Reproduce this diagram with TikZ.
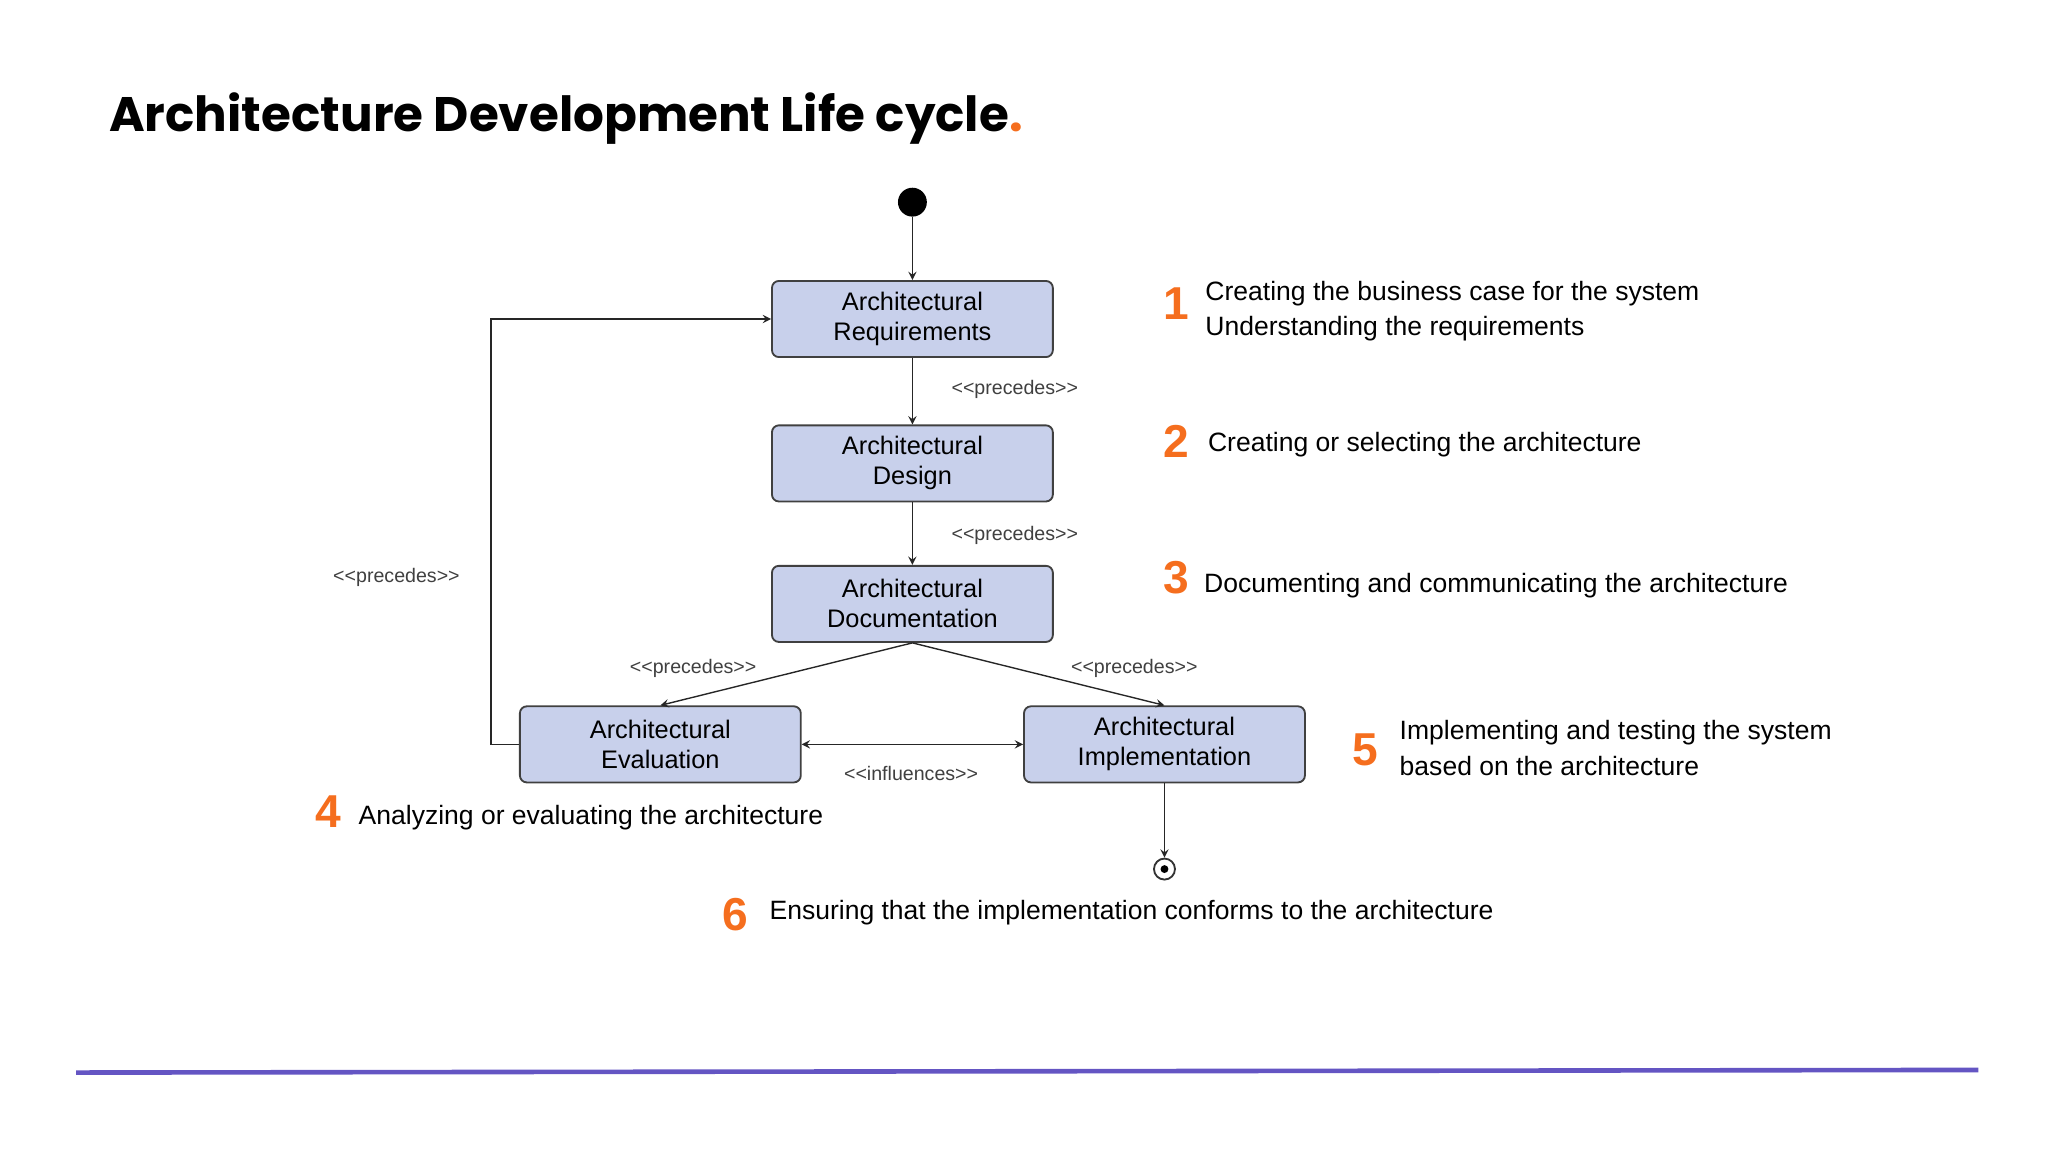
\documentclass[tikz,border=0pt]{standalone}
\usepackage{fontspec}
\setmainfont{Liberation Sans}
\newfontfamily\titlefont{Poppins}
\usetikzlibrary{positioning}
\definecolor{boxfill}{RGB}{200,208,235}
\definecolor{steporange}{RGB}{245,110,30}
\definecolor{rulepurple}{RGB}{100,85,195}
\newcommand{\stereotype}[1]{{<}{<}#1{>}{>}}

\begin{document}
\begin{tikzpicture}[x=0.02cm,y=-0.02cm,
    state/.style={rectangle,rounded corners=3pt,draw=black!75,fill=boxfill,thick,
        minimum width=4.28cm,minimum height=1.16cm,align=center,font=\fontsize{11}{13}\selectfont},
    flow/.style={->,>=stealth,semithick,black!85},
    stereo/.style={font=\fontsize{8.5}{10}\selectfont,text=black!75},
    num/.style={font=\fontsize{20}{22}\selectfont\bfseries,text=steporange},
    note/.style={font=\fontsize{11.5}{15.5}\selectfont,align=left,anchor=west},
]
    \useasboundingbox (0,0) rectangle (1560,878);
    % title
    \node[anchor=west,font=\titlefont\fontsize{21}{26}\selectfont\bfseries] (title) at (77,90)
        {Architecture Development Life cycle\textcolor{steporange}{.}};
    % states
    \node[circle,fill=black,inner sep=0pt,minimum size=0.44cm] (start) at (695,154) {};
    \node[state] (req) at (695,243) {Architectural\\Requirements};
    \node[state] (des) at (695,353) {Architectural\\Design};
    \node[state] (doc) at (695,460) {Architectural\\Documentation};
    \node[state] (eval) at (503,567) {Architectural\\Evaluation};
    \node[state] (impl) at (887,567) {Architectural\\Implementation};
    \node[circle,draw=black!80,thick,inner sep=0pt,minimum size=0.32cm] (stop) at (887,662) {};
    \fill[black] (stop) circle (0.06cm);
    \coordinate (loop) at (374,567);
    % connectors
    \draw[flow] (start) -- (req);
    \draw[flow] (req) -- (des);
    \draw[flow] (des) -- (doc);
    \draw[flow] (doc.south) -- (eval.north);
    \draw[flow] (doc.south) -- (impl.north);
    \draw[flow,<->] (eval) -- (impl);
    \draw[flow] (impl) -- (stop);
    \draw[flow] (eval.west) -- (loop) |- (req.west);
    % stereotypes
    \node[stereo] (s1) at (773,297) {\stereotype{precedes}};
    \node[stereo] (s2) at (773,408) {\stereotype{precedes}};
    \node[stereo] (s3) at (528,509) {\stereotype{precedes}};
    \node[stereo] (s4) at (864,509) {\stereotype{precedes}};
    \node[stereo] (s5) at (302,440) {\stereotype{precedes}};
    \node[stereo] (s6) at (694,589) {\stereotype{influences}};
    % steps
    \node[num] (n1) at (896,231) {1};
    \node[note] (t1) at (912,237) {Creating the business case for the system\\Understanding the requirements};
    \node[num] (n2) at (896,336) {2};
    \node[note] (t2) at (914,339) {Creating or selecting the architecture};
    \node[num] (n3) at (896,440) {3};
    \node[note] (t3) at (911,446) {Documenting and communicating the architecture};
    \node[num] (n4) at (250,618) {4};
    \node[note] (t4) at (267,623) {Analyzing or evaluating the architecture};
    \node[num] (n5) at (1040,571) {5};
    \node[note] (t5) at (1060,570) {Implementing and testing the system\\based on the architecture};
    \node[num] (n6) at (560,697) {6};
    \node[note] (t6) at (580,695) {Ensuring that the implementation conforms to the architecture};
    % footer rule
    \draw[rulepurple,line width=2pt] (58,817) -- (1507,815);
\end{tikzpicture}
\end{document}
